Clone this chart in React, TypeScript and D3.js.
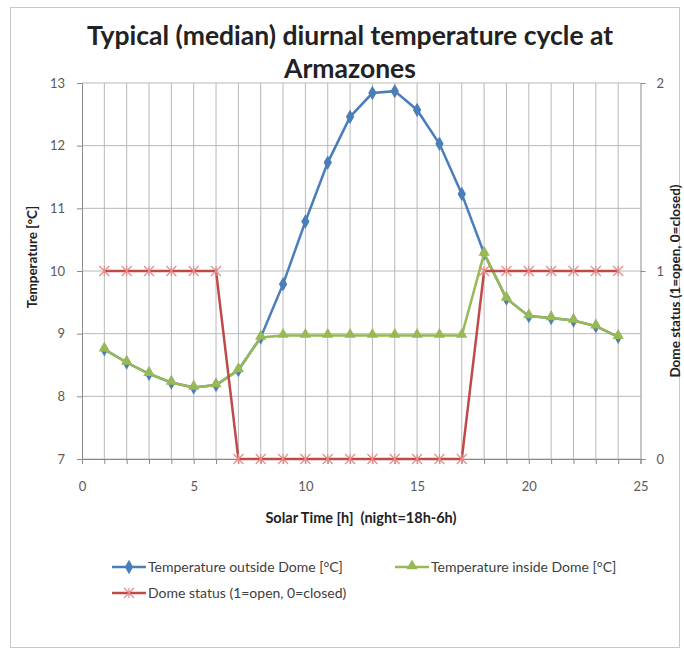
import React, { useEffect, useRef } from 'react';
import * as d3 from 'd3';

// hours of solar time
const hours = [1, 2, 3, 4, 5, 6, 7, 8, 9, 10, 11, 12, 13, 14, 15, 16, 17, 18, 19, 20, 21, 22, 23, 24];
// temperature outside the dome (same as inside while the dome is open)
const tempOutside = [8.75, 8.54, 8.36, 8.22, 8.14, 8.18, 8.42, 8.94, 9.79, 10.79, 11.73, 12.46, 12.84, 12.87, 12.57, 12.03, 11.23, 10.28, 9.56, 9.28, 9.25, 9.21, 9.12, 8.95];
const tempInside = [8.75, 8.54, 8.36, 8.22, 8.14, 8.18, 8.42, 8.94, 8.97, 8.97, 8.97, 8.97, 8.97, 8.97, 8.97, 8.97, 8.97, 10.28, 9.56, 9.28, 9.25, 9.21, 9.12, 8.95];
const domeStatus = [1, 1, 1, 1, 1, 1, 0, 0, 0, 0, 0, 0, 0, 0, 0, 0, 0, 1, 1, 1, 1, 1, 1, 1];

const xTicks = [0, 5, 10, 15, 20, 25];
const yTicks = [7, 8, 9, 10, 11, 12, 13];
const y2Ticks = [0, 1, 2];

const legendItems = [
  { name: 'Temperature outside Dome [°C]', key: 'out' },
  { name: 'Temperature inside Dome [°C]', key: 'in' },
  { name: 'Dome status (1=open, 0=closed)', key: 'dome' },
];

const BLUE = '#4a7ebb';
const GREEN = '#98b954';
const RED = '#be4b48';
const FONT = 'Lato, "Open Sans", sans-serif';

const App = () => {
  const ref = useRef<SVGSVGElement>(null);

  useEffect(() => {
    const svg = d3.select(ref.current);
    svg.selectAll('*').remove();

    const left = 82, right = 640.5, top = 83, bottom = 459;
    const x = d3.scaleLinear().domain([0, 25]).range([left, right]);
    const y = d3.scaleLinear().domain([7, 13]).range([bottom, top]);
    const y2 = d3.scaleLinear().domain([0, 2]).range([bottom, top]);

    // outer chart border
    svg.append('rect').attr('x', 10.5).attr('y', 7.5).attr('width', 669).attr('height', 640)
      .attr('fill', '#fff').attr('stroke', '#c8c8c8');

    // title
    svg.append('text').attr('x', 350).attr('y', 45).attr('text-anchor', 'middle')
      .attr('font-family', FONT).attr('font-weight', 'bold').attr('font-size', 26.5).attr('fill', '#222')
      .text('Typical (median) diurnal temperature cycle at');
    svg.append('text').attr('x', 350).attr('y', 78).attr('text-anchor', 'middle')
      .attr('font-family', FONT).attr('font-weight', 'bold').attr('font-size', 26.5).attr('fill', '#222')
      .text('Armazones');

    // gridlines
    const grid = svg.append('g').attr('stroke', '#b8b8b8').attr('stroke-width', 1);
    d3.range(1, 25).forEach(h => {
      grid.append('line').attr('x1', x(h)).attr('x2', x(h)).attr('y1', top).attr('y2', bottom);
    });
    yTicks.forEach(t => {
      grid.append('line').attr('x1', left).attr('x2', right).attr('y1', y(t)).attr('y2', y(t));
    });

    // axes
    const axisColor = '#8a8a8a';
    const gx = svg.append('g').attr('transform', `translate(0,${bottom})`)
      .call(d3.axisBottom(x).tickValues(d3.range(0, 26)).tickFormat(d => (xTicks.includes(+d) ? String(d) : '')).tickSizeOuter(0).tickSize(5).tickPadding(18));
    const gy = svg.append('g').attr('transform', `translate(${left},0)`)
      .call(d3.axisLeft(y).tickValues(yTicks).tickFormat(d3.format('d')).tickSizeOuter(0).tickSize(5).tickPadding(12));
    const gy2 = svg.append('g').attr('transform', `translate(${right},0)`)
      .call(d3.axisRight(y2).tickValues(y2Ticks).tickFormat(d3.format('d')).tickSizeOuter(0).tickSize(5).tickPadding(11));
    [gx, gy, gy2].forEach(g => {
      g.selectAll('path,line').attr('stroke', axisColor);
      g.selectAll('text').attr('font-family', FONT).attr('font-size', 13).attr('fill', '#595959');
    });

    // axis titles
    svg.append('text').attr('transform', 'translate(37,257) rotate(-90)').attr('text-anchor', 'middle')
      .attr('font-family', FONT).attr('font-weight', 'bold').attr('font-size', 13.5).attr('fill', '#222')
      .text('Temperature [°C]');
    svg.append('text').attr('transform', 'translate(680,281) rotate(-90)').attr('text-anchor', 'middle')
      .attr('font-family', FONT).attr('font-weight', 'bold').attr('font-size', 13.5).attr('fill', '#222')
      .text('Dome status (1=open, 0=closed)');
    svg.append('text').attr('x', 361).attr('y', 523).attr('text-anchor', 'middle')
      .attr('font-family', FONT).attr('font-weight', 'bold').attr('font-size', 14.5).attr('fill', '#222')
      .style('white-space', 'pre')
      .text('Solar Time [h]  (night=18h-6h)');

    const line = (vals: number[], sc: d3.ScaleLinear<number, number>) =>
      d3.line<number>().x((_, i) => x(hours[i])).y(v => sc(v))(vals);

    const diamond = d3.symbol().type(d3.symbolDiamond).size(60);
    const triangle = d3.symbol().type(d3.symbolTriangle).size(55);

    const drawX = (g: any, cx: number, cy: number, r: number) => {
      g.append('path').attr('d', `M${cx - r},${cy - r}L${cx + r},${cy + r}M${cx - r},${cy + r}L${cx + r},${cy - r}M${cx},${cy - r}L${cx},${cy + r}`)
        .attr('stroke', '#e58c8a').attr('stroke-width', 1.2).attr('fill', 'none');
    };

    // outside temperature
    svg.append('path').attr('d', line(tempOutside, y)).attr('fill', 'none').attr('stroke', BLUE).attr('stroke-width', 2.5);
    svg.append('g').selectAll('path').data(tempOutside).enter().append('path')
      .attr('d', diamond()).attr('transform', (v, i) => `translate(${x(hours[i])},${y(v)})`).attr('fill', BLUE);

    // inside temperature
    svg.append('path').attr('d', line(tempInside, y)).attr('fill', 'none').attr('stroke', GREEN).attr('stroke-width', 2.5);
    svg.append('g').selectAll('path').data(tempInside).enter().append('path')
      .attr('d', triangle()).attr('transform', (v, i) => `translate(${x(hours[i])},${y(v) - 1})`).attr('fill', GREEN);

    // dome status
    svg.append('path').attr('d', line(domeStatus, y2)).attr('fill', 'none').attr('stroke', RED).attr('stroke-width', 2.5);
    const gm = svg.append('g');
    domeStatus.forEach((v, i) => drawX(gm, x(hours[i]), y2(v), 5));

    // legend
    const lg = svg.append('g').attr('font-family', FONT).attr('font-size', 14).attr('fill', '#404040');
    const pos = [[112, 567], [395, 567], [112, 593]];
    legendItems.forEach((it, i) => {
      const [lx, ly] = pos[i];
      const col = it.key === 'out' ? BLUE : it.key === 'in' ? GREEN : RED;
      lg.append('line').attr('x1', lx).attr('x2', lx + 34).attr('y1', ly).attr('y2', ly).attr('stroke', col).attr('stroke-width', 2.5);
      if (it.key === 'out') lg.append('path').attr('d', diamond()).attr('transform', `translate(${lx + 17},${ly})`).attr('fill', BLUE);
      if (it.key === 'in') lg.append('path').attr('d', triangle()).attr('transform', `translate(${lx + 17},${ly - 1})`).attr('fill', GREEN);
      if (it.key === 'dome') drawX(lg, lx + 17, ly, 5);
      lg.append('text').attr('x', lx + 36).attr('y', ly + 5).text(it.name);
    });
  }, []);

  return <svg ref={ref} width={684} height={659} style={{ position: 'absolute', left: 0, top: 0 }} />;
};

export default App;
